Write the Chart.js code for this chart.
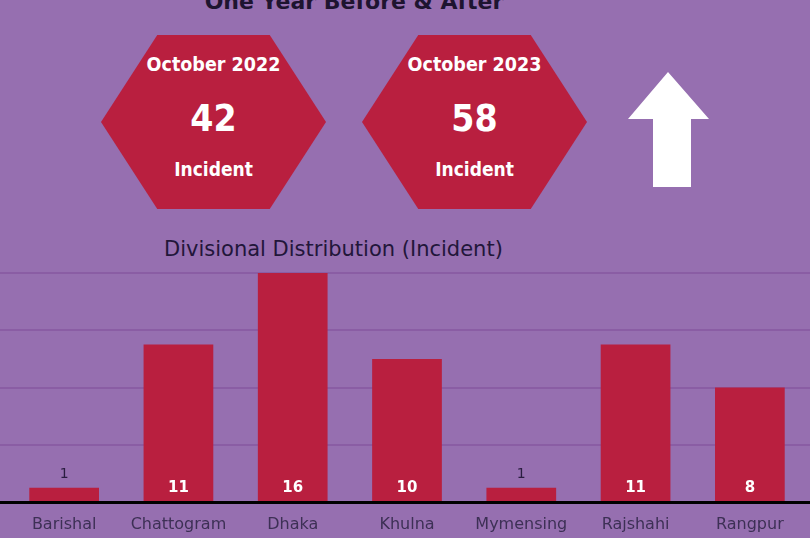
<!DOCTYPE html>
<html>
<head>
<meta charset="utf-8">
<script src="https://cdn.jsdelivr.net/npm/chart.js@4.4.0/dist/chart.umd.min.js"></script>
<style>
  html,body{margin:0;padding:0;}
  body{width:810px;height:538px;overflow:hidden;background:#966fb0;position:relative;font-family:"DejaVu Sans",sans-serif;}
  #topTitle{position:absolute;left:0;width:708px;top:-11px;text-align:center;font-size:22px;color:#1e1430;font-weight:bold;font-family:"DejaVu Sans",sans-serif;}
  .hex{position:absolute;top:35px;width:225px;height:174px;background:#b91f3f;
    clip-path:polygon(25% 0,75% 0,100% 50%,75% 100%,25% 100%,0 50%);color:#fff;text-align:center;
    font-family:"DejaVu Sans Condensed","DejaVu Sans",sans-serif;font-weight:bold;}
  .hex .period{position:absolute;left:0;right:0;top:18px;font-size:19.5px;}
  .hex .total{position:absolute;left:0;right:0;top:62px;font-size:37px;}
  .hex .unit{position:absolute;left:0;right:0;top:123px;font-size:19px;}
  #arrow{position:absolute;left:628px;top:72px;}
  #subTitle{position:absolute;left:164px;top:237px;font-size:21px;color:#22163a;white-space:nowrap;}
  #wrap{position:absolute;left:0;top:0;width:810px;height:538px;}
</style>
</head>
<body>
<div id="topTitle">One Year Before &amp; After</div>
<div id="hexes"></div>
<svg id="arrow" width="82" height="116"><polygon points="40,0 81,47 63,47 63,115 25,115 25,47 0,47" fill="#ffffff"/></svg>
<div id="subTitle">Divisional Distribution (Incident)</div>
<div id="wrap"><canvas id="chart"></canvas></div>
<script>
const periods = ['October 2022','October 2023'];
const totals = [42, 58];
const divisions = ['Barishal','Chattogram','Dhaka','Khulna','Mymensing','Rajshahi','Rangpur'];
const incidents = [1, 11, 16, 10, 1, 11, 8];
const gridTicks = [4, 8, 12, 16];

const HEX_LEFT = [101, 362];
const hexBox = document.getElementById('hexes');
periods.forEach((p,i)=>{
  const h = document.createElement('div');
  h.className = 'hex';
  h.style.left = HEX_LEFT[i] + 'px';
  h.innerHTML = `<div class="period">${p}</div><div class="total">${totals[i]}</div><div class="unit">Incident</div>`;
  hexBox.appendChild(h);
});

// gridlines across full width + black baseline
const fullGrid = {
  id:'fullGrid',
  beforeDatasetsDraw(chart){
    const {ctx, scales:{y}} = chart;
    ctx.save();
    ctx.strokeStyle = '#8a5da4';
    ctx.lineWidth = 2;
    gridTicks.forEach(v=>{
      const py = Math.round(y.getPixelForValue(v));
      ctx.beginPath(); ctx.moveTo(0,py); ctx.lineTo(chart.width,py); ctx.stroke();
    });
    ctx.restore();
  },
  afterDatasetsDraw(chart){
    const {ctx, scales:{y}} = chart;
    const meta = chart.getDatasetMeta(0);
    ctx.save();
    ctx.textAlign = 'center';
    ctx.textBaseline = 'middle';
    meta.data.forEach((bar,i)=>{
      const v = incidents[i];
      if(v >= 3){
        ctx.fillStyle = '#ffffff';
        ctx.font = 'bold 15px "DejaVu Sans"';
        ctx.fillText(String(v), bar.x, bar.base - 14);
      } else {
        ctx.fillStyle = '#2a1d40';
        ctx.font = '14px "DejaVu Sans"';
        ctx.fillText(String(v), bar.x, bar.y - 13);
      }
    });
    const by = y.getPixelForValue(0);
    ctx.fillStyle = '#000000';
    ctx.fillRect(0, by - 1, chart.width, 3);
    ctx.restore();
  }
};

new Chart(document.getElementById('chart'), {
  type:'bar',
  data:{ labels: divisions, datasets:[{ data: incidents, backgroundColor:'#b91f3f', borderWidth:0, barPercentage:0.61, categoryPercentage:1 }] },
  options:{
    responsive:true, maintainAspectRatio:false, animation:false,
    layout:{ padding:{ top:273, left:7, right:3, bottom:3 } },
    plugins:{ legend:{display:false}, tooltip:{enabled:false} },
    scales:{
      x:{ grid:{display:false, drawTicks:false}, border:{display:false},
          afterFit(scale){ scale.height = 33; },
          ticks:{ color:'#3d3055', font:{ family:'"DejaVu Sans"', size:16 }, padding:13, maxRotation:0, autoSkip:false } },
      y:{ display:false, min:0, max:16 }
    }
  },
  plugins:[fullGrid]
});
</script>
</body>
</html>
